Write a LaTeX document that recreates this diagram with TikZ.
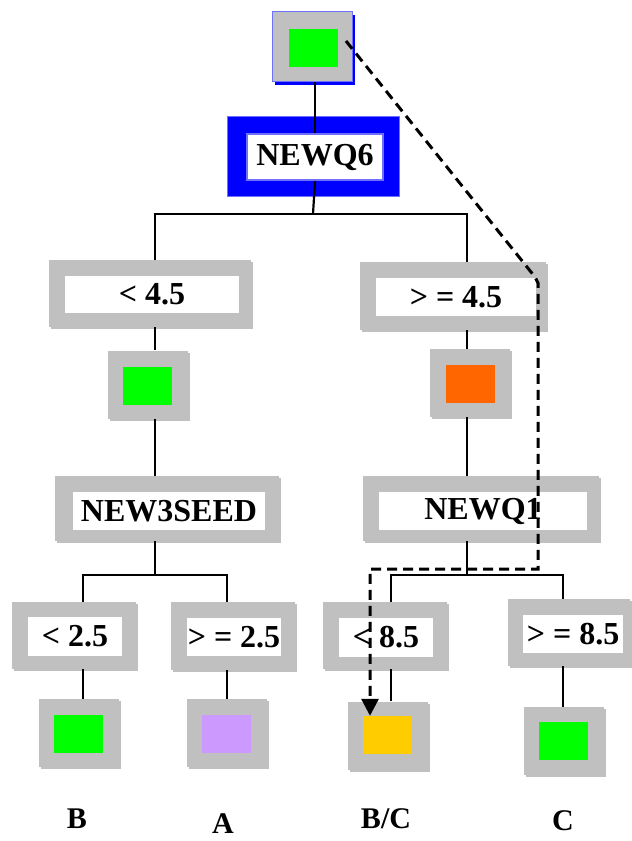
\documentclass[tikz,border=0pt]{standalone}
\usepackage{fontspec}
\setmainfont{Liberation Serif}
\usetikzlibrary{shadows,arrows.meta}

\definecolor{boxgray}{HTML}{C0C0C0}
\definecolor{leafgreen}{HTML}{00FF00}
\definecolor{leaforange}{HTML}{FF6600}
\definecolor{leaflilac}{HTML}{CC99FF}
\definecolor{leafamber}{HTML}{FFCC00}
\definecolor{rootblue}{HTML}{0000FF}
\definecolor{paleblue}{HTML}{7070FF}

\tikzset{
  frame/.style={rectangle, inner sep=0pt, fill=boxgray, draw=none,
    general shadow={fill=boxgray, shadow xshift=2pt, shadow yshift=-2pt}},
  label box/.style={rectangle, inner sep=0pt, fill=white, draw=none,
    font=\bfseries\fontsize{32}{32}\selectfont},
  swatch/.style={rectangle, inner sep=0pt, draw=none,
    minimum width=49pt, minimum height=38pt},
  leaf frame/.style={frame, minimum width=80pt, minimum height=68pt},
  class/.style={inner sep=0pt, anchor=base, font=\bfseries\fontsize{30}{30}\selectfont},
  link/.style={draw=black, line width=2.2pt},
  path trace/.style={draw=black, line width=3pt, dash pattern=on 10pt off 6pt,
    -{Triangle[width=17pt,length=17pt]}},
}

\begin{document}
\begin{tikzpicture}[x=1pt,y=-1pt]
\useasboundingbox (0,0) rectangle (632,841);

% root node
\node[rectangle, inner sep=0pt, fill=boxgray, draw=paleblue, line width=1pt,
      minimum width=80pt, minimum height=70pt,
      general shadow={fill=rootblue, shadow xshift=3pt, shadow yshift=-3pt}]
      (top) at (312,46.5) {};
\node[swatch, fill=leafgreen] (topin) at (313.5,48) {};

% NEWQ6 split
\node[rectangle, inner sep=0pt, fill=rootblue, draw=paleblue, line width=1pt,
      minimum width=172pt, minimum height=80pt] (q6) at (313.5,156.5) {};
\node[label box, draw=paleblue, line width=2pt, minimum width=136pt, minimum height=46pt]
      (q6in) at (315,157) {NEWQ6};

% first-level branches
\node[frame, minimum width=202pt, minimum height=67pt] (lt) at (150,293.5) {};
\node[label box, minimum width=174pt, minimum height=37pt] (ltin) at (152,294.5) {< 4.5};
\node[frame, minimum width=186pt, minimum height=68pt] (rt) at (453,296) {};
\node[label box, minimum width=160pt, minimum height=38pt] (rtin) at (456,297) {> = 4.5};

\node[leaf frame] (lsq) at (148,384.5) {};
\node[swatch, fill=leafgreen] (lsqin) at (147.5,386) {};
\node[leaf frame] (osq) at (470,383) {};
\node[swatch, fill=leaforange] (osqin) at (470,384) {};

% second-level splits
\node[frame, minimum width=224pt, minimum height=65pt] (n3) at (167,508.5) {};
\node[label box, minimum width=192pt, minimum height=38pt] (n3in) at (169,511) {NEW3SEED};
\node[frame, minimum width=236pt, minimum height=65pt] (nq1) at (481,508.5) {};
\node[label box, minimum width=208pt, minimum height=38pt] (nq1in) at (483,511) {NEWQ1};

% second-level branches
\node[frame, minimum width=124pt, minimum height=67pt] (l25) at (74,635.5) {};
\node[label box, minimum width=94pt, minimum height=39pt] (l25in) at (75,636.5) {< 2.5};
\node[frame, minimum width=124pt, minimum height=68pt] (g25) at (233,636) {};
\node[label box, minimum width=94pt, minimum height=38pt] (g25in) at (234,637) {> = 2.5};
\node[frame, minimum width=124pt, minimum height=67pt] (l85) at (385,635.5) {};
\node[label box, minimum width=94pt, minimum height=39pt] (l85in) at (386,637.5) {< 8.5};
\node[frame, minimum width=122pt, minimum height=67pt] (g85) at (569,632.5) {};
\node[label box, minimum width=100pt, minimum height=38pt] (g85in) at (573,634) {> = 8.5};

% leaves
\node[leaf frame] (leafB) at (79,733) {};
\node[swatch, fill=leafgreen] (leafBin) at (78.5,733.5) {};
\node[leaf frame] (leafA) at (226.5,733) {};
\node[swatch, fill=leaflilac] (leafAin) at (226.5,733.5) {};
\node[leaf frame] (leafBC) at (387.5,735.5) {};
\node[swatch, fill=leafamber] (leafBCin) at (387.5,735) {};
\node[leaf frame] (leafC) at (564,741) {};
\node[swatch, fill=leafgreen] (leafCin) at (563.5,741) {};

% class labels
\node[class] (clsB) at (77,828) {B};
\node[class] (clsA) at (223,833) {A};
\node[class] (clsBC) at (386,828) {B/C};
\node[class] (clsC) at (563,830) {C};

% columns and bars of the tree
\coordinate (colL) at (155,0);
\coordinate (colR) at (467,0);
\coordinate (colL1) at (83,0);
\coordinate (colL2) at (227,0);
\coordinate (colR1) at (391,0);
\coordinate (colR2) at (563,0);
\coordinate (b1) at (313,214);
\coordinate (b2) at (155,575);
\coordinate (b3) at (467,575);

\draw[link] (top.south -| q6in.north) -- (q6in.north);
\draw[link] (q6in.south) -- (b1);
\draw[link] (b1) -| (lt.north -| colL);
\draw[link] (b1) -| (rt.north -| colR);

\draw[link] (lt.south -| colL) -- (lsq.north -| colL);
\draw[link] (lsq.south -| colL) -- (n3.north -| colL);
\draw[link] (n3.south -| colL) -- (b2);
\draw[link] (b2) -| (l25.north -| colL1);
\draw[link] (b2) -| (g25.north -| colL2);
\draw[link] (l25.south -| colL1) -- (leafB.north -| colL1);
\draw[link] (g25.south -| colL2) -- (leafA.north -| colL2);

\draw[link] (rt.south -| colR) -- (osq.north -| colR);
\draw[link] (osq.south -| colR) -- (nq1.north -| colR);
\draw[link] (nq1.south -| colR) -- (b3);
\draw[link] (b3) -| (l85.north -| colR1);
\draw[link] (b3) -| (g85.north -| colR2);
\draw[link] (l85.south -| colR1) -- (leafBC.north -| colR1);
\draw[link] (g85.south -| colR2) -- (leafC.north -| colR2);

% classification path of a sample
\coordinate (d0) at (346,41);
\coordinate (d1) at (535,277);
\coordinate (d2) at (538,283);
\coordinate (d3) at (538,569);
\coordinate (d4) at (370,569);
\draw[path trace] (d0) -- (d1) -- (d2) -- (d3) -- (d4) -- (leafBCin.north -| d4);
\end{tikzpicture}
\end{document}
